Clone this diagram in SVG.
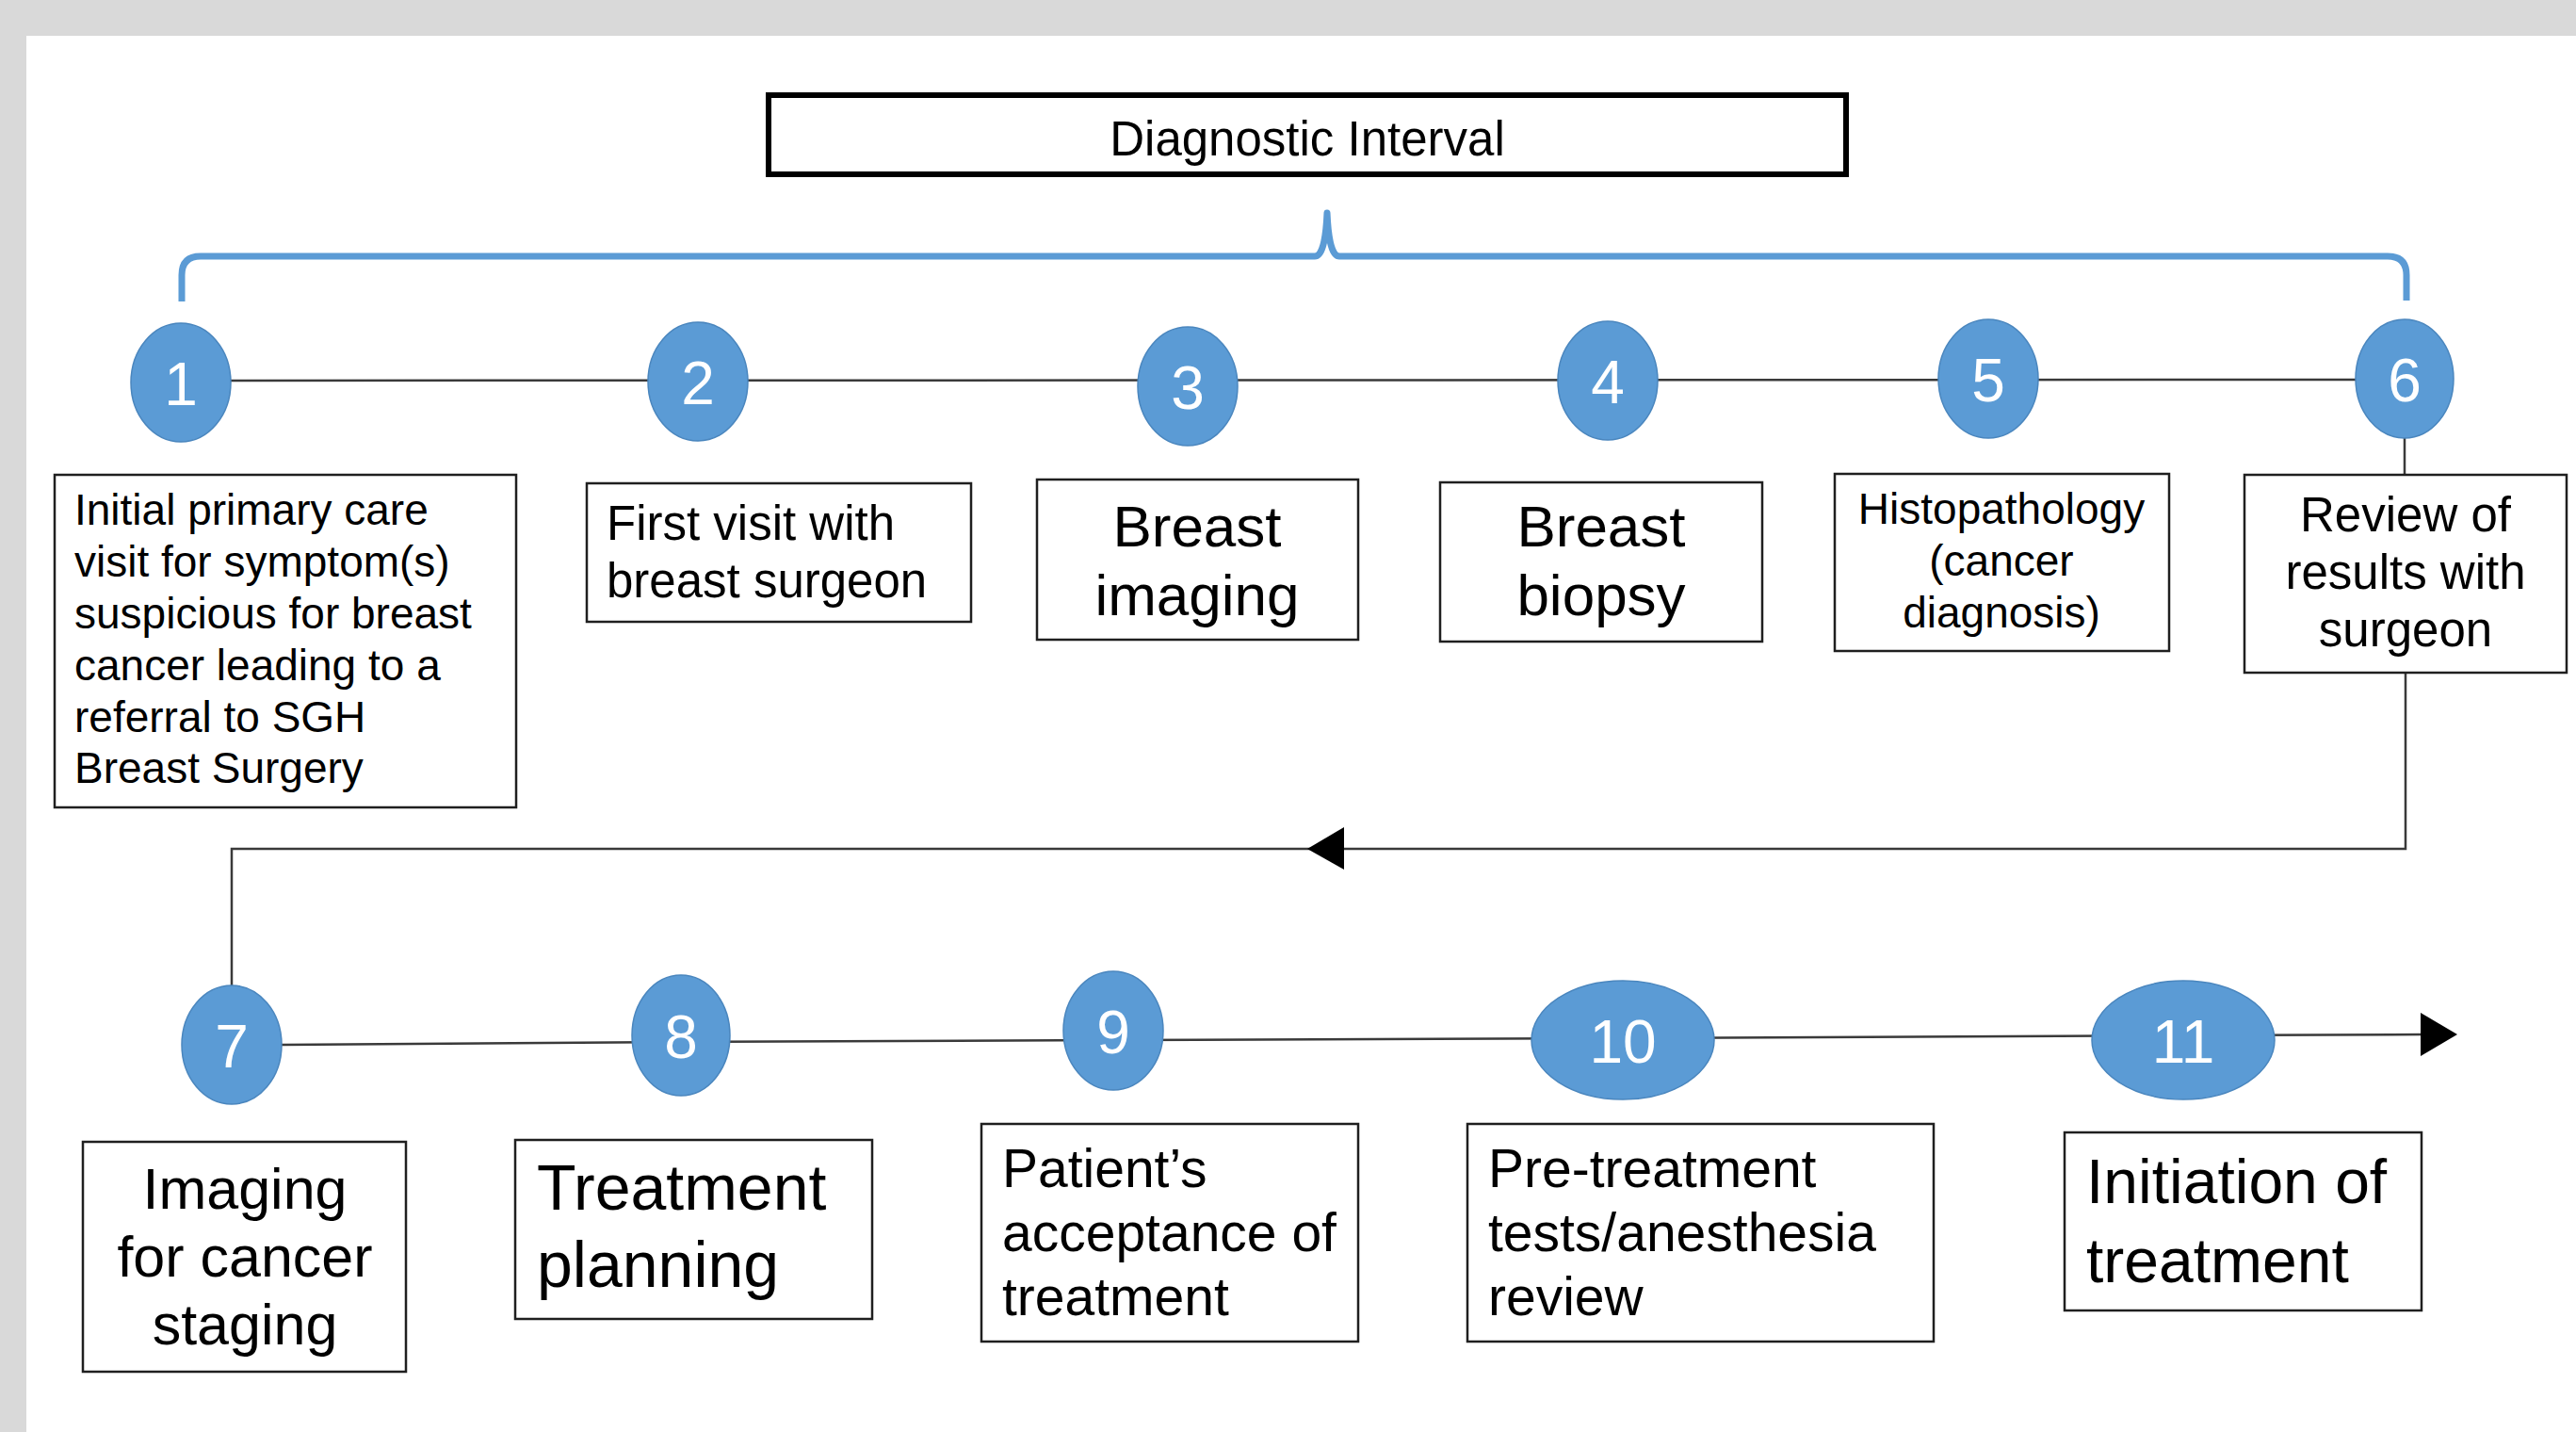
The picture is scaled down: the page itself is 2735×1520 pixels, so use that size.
<svg xmlns="http://www.w3.org/2000/svg" width="2735" height="1520" viewBox="0 0 2735 1520">
<style>
.bg{fill:#D9D9D9}
.box{fill:#FFFFFF;stroke:#1F1F1F;stroke-width:2.5}
.ell{fill:#5B9BD5;stroke:#4A86BE;stroke-width:1.5}
.num{fill:#FFFFFF;font-family:"Liberation Sans",Arial,sans-serif;font-size:64px;text-anchor:middle}
.t{fill:#000000;font-family:"Liberation Sans",Arial,sans-serif}
.c{text-anchor:middle}
.ln{fill:none;stroke:#3A3A3A;stroke-width:2.5}
.brace{fill:none;stroke:#5B9BD5;stroke-width:7;stroke-linejoin:round;stroke-linecap:butt}
</style>
<rect x="0" y="0" width="2735" height="1520" fill="#FFFFFF"/>
<rect class="bg" x="0" y="0" width="2735" height="38"/>
<rect class="bg" x="0" y="0" width="28" height="1520"/>

<g id="connectors">
<path class="brace" d="M193,320 L193,292 Q193,272 213,272 L1396,272 Q1407,272 1409,226 Q1411,272 1422,272 L2535,272 Q2555,272 2555,292 L2555,319"/>
<line class="ln" x1="192" y1="404" x2="2553" y2="403"/>
<line class="ln" x1="2553" y1="465" x2="2553" y2="504"/>
<polyline class="ln" points="2554,714 2554,901 246,901 246,1046"/>
<polygon points="1388,901 1427,878 1427,923" fill="#000000"/>
<polyline class="ln" points="299,1109 723,1106 1182,1104 1723,1102 2318,1099 2575,1098"/>
<polygon points="2609,1098 2570,1075 2570,1121" fill="#000000"/>
</g>

<g id="diagnostic-interval">
<rect x="816" y="101" width="1144" height="84" fill="#FFFFFF" stroke="#000000" stroke-width="6"/>
<text class="t c" x="1388" y="165" font-size="51">Diagnostic Interval</text>
</g>

<g id="n1"><ellipse class="ell" cx="192" cy="406" rx="53" ry="63"/><text class="num" x="192" y="430">1</text></g>
<g id="n2"><ellipse class="ell" cx="741" cy="405" rx="53" ry="63"/><text class="num" x="741" y="429">2</text></g>
<g id="n3"><ellipse class="ell" cx="1261" cy="410" rx="53" ry="63"/><text class="num" x="1261" y="434">3</text></g>
<g id="n4"><ellipse class="ell" cx="1707" cy="404" rx="53" ry="63"/><text class="num" x="1707" y="428">4</text></g>
<g id="n5"><ellipse class="ell" cx="2111" cy="402" rx="53" ry="63"/><text class="num" x="2111" y="426">5</text></g>
<g id="n6"><ellipse class="ell" cx="2553" cy="402" rx="52" ry="63"/><text class="num" x="2553" y="426">6</text></g>
<g id="n7"><ellipse class="ell" cx="246" cy="1109" rx="53" ry="63"/><text class="num" x="246" y="1133">7</text></g>
<g id="n8"><ellipse class="ell" cx="723" cy="1099" rx="52" ry="64"/><text class="num" x="723" y="1123">8</text></g>
<g id="n9"><ellipse class="ell" cx="1182" cy="1094" rx="53" ry="63"/><text class="num" x="1182" y="1118">9</text></g>
<g id="n10"><ellipse class="ell" cx="1723" cy="1104" rx="97" ry="63"/><text class="num" x="1723" y="1128">10</text></g>
<g id="n11"><ellipse class="ell" cx="2318" cy="1104" rx="97" ry="63"/><text class="num" x="2318" y="1128">11</text></g>

<g id="box1"><rect class="box" x="58" y="504" width="490" height="353"/>
<text class="t" font-size="46"><tspan x="79" y="557">Initial primary care</tspan><tspan x="79" y="612">visit for symptom(s)</tspan><tspan x="79" y="667">suspicious for breast</tspan><tspan x="79" y="722">cancer leading to a</tspan><tspan x="79" y="777">referral to SGH</tspan><tspan x="79" y="831">Breast Surgery</tspan></text></g>
<g id="box2"><rect class="box" x="623" y="513" width="408" height="147"/>
<text class="t" font-size="51"><tspan x="644" y="573">First visit with</tspan><tspan x="644" y="634">breast surgeon</tspan></text></g>
<g id="box3"><rect class="box" x="1101" y="509" width="341" height="170"/>
<text class="t c" font-size="62"><tspan x="1271" y="580">Breast</tspan><tspan x="1271" y="653">imaging</tspan></text></g>
<g id="box4"><rect class="box" x="1529" y="512" width="342" height="169"/>
<text class="t c" font-size="62"><tspan x="1700" y="580">Breast</tspan><tspan x="1700" y="653">biopsy</tspan></text></g>
<g id="box5"><rect class="box" x="1948" y="503" width="355" height="188"/>
<text class="t c" font-size="46"><tspan x="2125" y="556">Histopathology</tspan><tspan x="2125" y="611">(cancer</tspan><tspan x="2125" y="666">diagnosis)</tspan></text></g>
<g id="box6"><rect class="box" x="2383" y="504" width="342" height="210"/>
<text class="t c" font-size="51"><tspan x="2554" y="564">Review of</tspan><tspan x="2554" y="625">results with</tspan><tspan x="2554" y="686">surgeon</tspan></text></g>
<g id="box7"><rect class="box" x="88" y="1212" width="343" height="244"/>
<text class="t c" font-size="61"><tspan x="260" y="1283">Imaging</tspan><tspan x="260" y="1355">for cancer</tspan><tspan x="260" y="1427">staging</tspan></text></g>
<g id="box8"><rect class="box" x="547" y="1210" width="379" height="190"/>
<text class="t" font-size="68"><tspan x="570" y="1284">Treatment</tspan><tspan x="570" y="1366">planning</tspan></text></g>
<g id="box9"><rect class="box" x="1042" y="1193" width="400" height="231"/>
<text class="t" font-size="57"><tspan x="1064" y="1260">Patient’s</tspan><tspan x="1064" y="1328">acceptance of</tspan><tspan x="1064" y="1396">treatment</tspan></text></g>
<g id="box10"><rect class="box" x="1558" y="1193" width="495" height="231"/>
<text class="t" font-size="57"><tspan x="1580" y="1260">Pre-treatment</tspan><tspan x="1580" y="1328">tests/anesthesia</tspan><tspan x="1580" y="1396">review</tspan></text></g>
<g id="box11"><rect class="box" x="2192" y="1202" width="379" height="189"/>
<text class="t" font-size="66"><tspan x="2215" y="1277">Initiation of</tspan><tspan x="2215" y="1361">treatment</tspan></text></g>
</svg>
